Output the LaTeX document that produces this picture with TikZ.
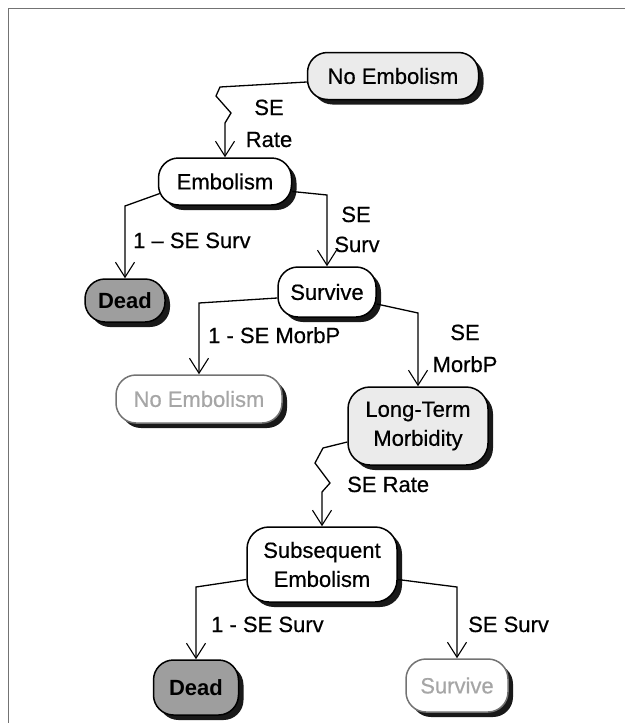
\documentclass[tikz,border=0pt]{standalone}
\usepackage{fontspec}
\setmainfont{Liberation Sans}[UprightFeatures={FakeBold=0.5}]
\usetikzlibrary{arrows.meta,shadows}
\begin{document}
\begin{tikzpicture}[x=1pt,y=-1pt,
  every node/.style={font=\fontsize{22}{29}\selectfont},
  stbox/.style={draw, line width=1.5pt, rounded corners=20pt, align=center,
    inner sep=0pt, fill=white,
    drop shadow={shadow xshift=5pt, shadow yshift=-5pt, fill=black!90, opacity=1}},
  light/.style={stbox, fill=black!8},
  dead/.style={stbox, fill=black!38, font=\fontsize{22}{29}\selectfont\bfseries},
  faded/.style={stbox, draw=black!55, text=black!35},
  conn/.style={line width=1.3pt, -{Straight Barb[length=15pt,width=19pt,line width=1.1pt]}},
  lbl/.style={inner sep=0pt}
]
\useasboundingbox (0,0) rectangle (625,723);

% page frame
\draw[black!55, line width=1pt] (8,723) -- (8,8) -- (625,8);

% states
\node[light, minimum width=171, minimum height=47] (ne0) at (393,76) {No Embolism};
\node[stbox, minimum width=133, minimum height=47] (emb) at (225,181.5) {Embolism};
\node[dead, minimum width=80, minimum height=43] (dead1) at (125,300.5) {Dead};
\node[stbox, minimum width=98, minimum height=50] (surv1) at (327,292) {Survive};
\node[faded, minimum width=166, minimum height=48] (ne1) at (199,399) {No Embolism};
\node[light, minimum width=140, minimum height=78, rounded corners=22pt] (ltm) at (418,426) {Long-Term\\Morbidity};
\node[stbox, minimum width=150, minimum height=75, rounded corners=22pt] (sub) at (322,564.5) {Subsequent\\Embolism};
\node[dead, minimum width=85, minimum height=55] (dead2) at (196,687.5) {Dead};
\node[faded, minimum width=102, minimum height=53] (surv2) at (457,685.5) {Survive};

% transitions
\draw[conn] ([yshift=-6pt]ne0.west) -- (220,87) -- (216,96) -- (231,113) -- (225,123) -- (emb.north);
\draw[conn] ([xshift=2pt,yshift=-12pt]emb.west) -- (125,206) -- (dead1.north);
\draw[conn] ([yshift=-10pt]emb.east) -- (327,195) -- (surv1.north);
\draw[conn] ([yshift=-6pt]surv1.west) -- (199,303) -- (ne1.north);
\draw[conn] ([yshift=-12pt]surv1.east) -- (418,313) -- (ltm.north);
\draw[conn] ([yshift=-16pt]ltm.west) -- (323,448) -- (315,463) -- (330,483) -- (322,492) -- (sub.north);
\draw[conn] ([yshift=-15pt]sub.west) -- (196,587) -- (dead2.north);
\draw[conn] ([yshift=-15pt]sub.east) -- (457,587) -- (surv2.north);

% transition labels
\node[lbl, anchor=base] (la1) at (269,115) {SE};
\node[lbl, anchor=base] (la2) at (269,147) {Rate};
\node[lbl, anchor=base west] (lb) at (133,248) {1 -- SE Surv};
\node[lbl, anchor=base] (lc1) at (356,222) {SE};
\node[lbl, anchor=base] (lc2) at (357,252) {Surv};
\node[lbl, anchor=base west] (ld) at (208,343) {1 - SE MorbP};
\node[lbl, anchor=base] (le1) at (465,340) {SE};
\node[lbl, anchor=base] (le2) at (465,372) {MorbP};
\node[lbl, anchor=base west] (lf) at (347,492) {SE Rate};
\node[lbl, anchor=base west] (lg) at (211,632) {1 - SE Surv};
\node[lbl, anchor=base west] (lh) at (468,632) {SE Surv};
\end{tikzpicture}
\end{document}
